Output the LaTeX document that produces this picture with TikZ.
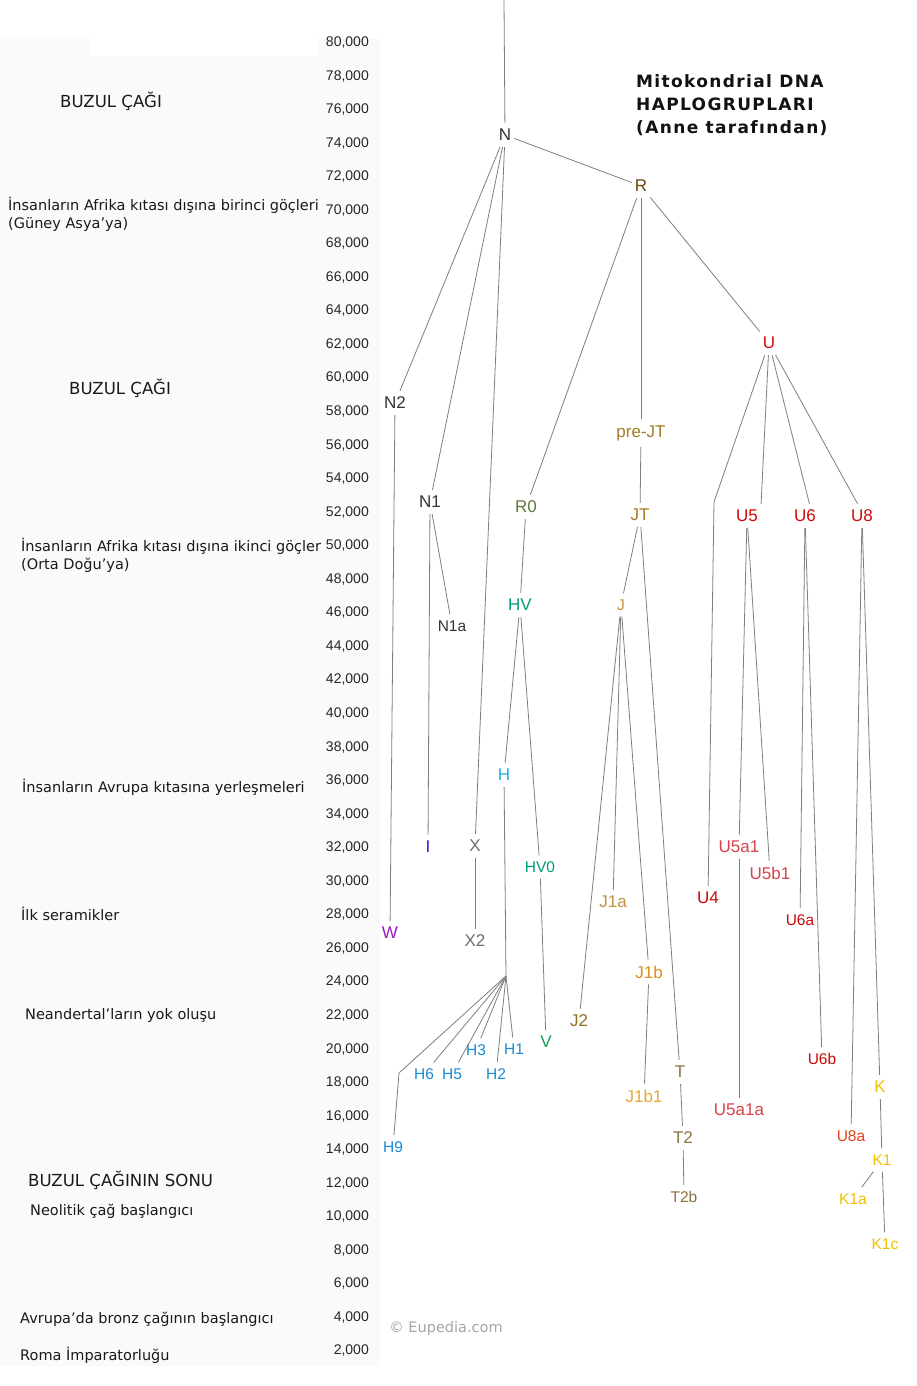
\documentclass[tikz,border=0pt]{standalone}
\usepackage{fontspec}
\setmainfont{Liberation Sans}
\newfontfamily\verdfont{DejaVu Sans}
\newfontfamily\titlefont[LetterSpace=8]{DejaVu Sans}
\usetikzlibrary{positioning}

\definecolor{linegray}{HTML}{7E7E7E}
\definecolor{ngray}{HTML}{333333}
\definecolor{rbrown}{HTML}{6B4412}
\definecolor{ured}{HTML}{CC0A0A}
\definecolor{ulight}{HTML}{D9424A}
\definecolor{uorange}{HTML}{E8401A}
\definecolor{jtgold}{HTML}{A47C22}
\definecolor{jlight}{HTML}{C0943C}
\definecolor{jdark}{HTML}{8F7020}
\definecolor{jorange}{HTML}{DD8F1A}
\definecolor{jpale}{HTML}{E6AA30}
\definecolor{tkhaki}{HTML}{8C7240}
\definecolor{kyellow}{HTML}{F0C000}
\definecolor{rzero}{HTML}{5F7A3C}
\definecolor{hvteal}{HTML}{009B7A}
\definecolor{hcyan}{HTML}{18B4DC}
\definecolor{hblue}{HTML}{1A8AD4}
\definecolor{vgreen}{HTML}{12A04A}
\definecolor{iblue}{HTML}{3A14E0}
\definecolor{xgray}{HTML}{6E6E6E}
\definecolor{wpurple}{HTML}{A014C8}

\begin{document}
\begin{tikzpicture}[x=1pt,y=-1pt,
	hg/.style={inner xsep=3pt,inner ysep=6pt,font=\fontsize{17}{17}\selectfont},
	hgs/.style={inner xsep=3pt,inner ysep=6pt,font=\fontsize{15.5}{15.5}\selectfont},
	link/.style={draw=linegray,line width=0.8pt},
	timelbl/.style={anchor=east,inner sep=0pt,text=black!85,font=\fontsize{14}{14}\selectfont},
	event/.style={anchor=west,inner sep=0pt,align=left,text=black!90,font=\verdfont\fontsize{14.5}{18}\selectfont},
	era/.style={event,font=\verdfont\fontsize{16.6}{18}\selectfont}]

	\useasboundingbox (0,0) rectangle (916,1386);
	\fill[white] (0,0) rectangle (916,1386);
	\fill[black!2] (0,39) rectangle (380,1366);
	\fill[white] (90,39) rectangle (317,56);

	% time axis
	\foreach \k in {1,...,40}
	{
		\pgfmathsetmacro{\ypos}{42.5+(40-\k)*33.55}
		\pgfmathtruncatemacro{\yr}{2*\k}
		\node[timelbl] (t\k) at (369,\ypos) {\yr,000};
	}

	% events
	\node[era] (ev1) at (60,101) {BUZUL ÇAĞI};
	\node[event] (ev2) at (8,214) {İnsanların Afrika kıtası dışına birinci göçleri\\(Güney Asya’ya)};
	\node[era] (ev3) at (69,388) {BUZUL ÇAĞI};
	\node[event] (ev4) at (21,555) {İnsanların Afrika kıtası dışına ikinci göçler\\(Orta Doğu’ya)};
	\node[event] (ev5) at (22,787) {İnsanların Avrupa kıtasına yerleşmeleri};
	\node[event] (ev6) at (21,914) {İlk seramikler};
	\node[event] (ev7) at (25,1015) {Neandertal’ların yok oluşu};
	\node[era] (ev8) at (28,1180) {BUZUL ÇAĞININ SONU};
	\node[event] (ev9) at (30,1211) {Neolitik çağ başlangıcı};
	\node[event] (ev10) at (20,1319) {Avrupa’da bronz çağının başlangıcı};
	\node[event] (ev11) at (20,1355) {Roma İmparatorluğu};

	\node[anchor=north west,inner sep=0pt,align=left,text=black!93,font=\titlefont\bfseries\fontsize{17}{23}\selectfont] (title) at (636,74) {Mitokondrial DNA\\HAPLOGRUPLARI\\(Anne tarafından)};
	\node[text=black!35,font=\verdfont\fontsize{14.5}{14.5}\selectfont] (mark) at (446,1328) {© Eupedia.com};

	% haplogroups
	\node[hg,text=ngray] (N) at (505,135) {N};
	\node[hg,text=rbrown] (R) at (641,186) {R};
	\node[hg,text=ured] (U) at (769,343) {U};
	\node[hg,text=ngray] (N2) at (395,403) {N2};
	\node[hg,text=ngray] (N1) at (430,502) {N1};
	\node[hgs,text=ngray] (N1a) at (452,626) {N1a};
	\node[hg,text=wpurple] (W) at (390,933) {W};
	\node[hg,text=iblue] (I) at (428,847) {I};
	\node[hg,text=xgray] (X) at (475,846) {X};
	\node[hg,text=xgray] (X2) at (475,941) {X2};
	\node[hg,text=rzero] (R0) at (526,507) {R0};
	\node[hg,text=hvteal] (HV) at (520,605) {HV};
	\node[hg,text=hcyan] (H) at (504,775) {H};
	\node[hgs,text=hvteal] (HV0) at (540,867) {HV0};
	\node[hg,text=vgreen] (V) at (546,1042) {V};
	\node[hgs,text=hblue] (H1) at (514,1049) {H1};
	\node[hgs,text=hblue] (H2) at (496,1074) {H2};
	\node[hgs,text=hblue] (H3) at (476,1050) {H3};
	\node[hgs,text=hblue] (H5) at (452,1074) {H5};
	\node[hgs,text=hblue] (H6) at (424,1074) {H6};
	\node[hgs,text=hblue] (H9) at (393,1147) {H9};
	\node[hg,text=jtgold] (preJT) at (641,433) {pre-JT};
	\node[hg,text=jtgold] (JT) at (640,515) {JT};
	\node[hgs,text=jlight] (J) at (621,605) {J};
	\node[hg,text=jdark] (J2) at (579,1021) {J2};
	\node[hg,text=jlight] (J1a) at (613,902) {J1a};
	\node[hg,text=jorange] (J1b) at (649,972) {J1b};
	\node[hg,text=jpale] (J1b1) at (644,1096) {J1b1};
	\node[hg,text=tkhaki] (T) at (680,1072) {T};
	\node[hg,text=tkhaki] (T2) at (683,1138) {T2};
	\node[hgs,text=tkhaki] (T2b) at (684,1197) {T2b};
	\node[hg,text=ured] (U4) at (708,898) {U4};
	\node[hg,text=ured] (U5) at (747,516) {U5};
	\node[hg,text=ured] (U6) at (805,516) {U6};
	\node[hg,text=ured] (U8) at (862,516) {U8};
	\node[hg,text=ulight] (U5a1) at (739,847) {U5a1};
	\node[hg,text=ulight] (U5b1) at (770,873) {U5b1};
	\node[hg,text=ulight] (U5a1a) at (739,1110) {U5a1a};
	\node[hgs,text=ured] (U6a) at (800,920) {U6a};
	\node[hgs,text=ured] (U6b) at (822,1059) {U6b};
	\node[hgs,text=uorange] (U8a) at (851,1136) {U8a};
	\node[hg,text=kyellow] (K) at (880,1087) {K};
	\node[hgs,text=kyellow] (K1) at (882,1160) {K1};
	\node[hgs,text=kyellow] (K1a) at (853,1199) {K1a};
	\node[hgs,text=kyellow] (K1c) at (885,1244) {K1c};

	\coordinate (top) at (504,0);
	\coordinate (Hhub) at (506,976);
	\coordinate (H9k) at (399,1073);
	\coordinate (U4k) at (714,502);

	\path[link]
		(top) edge (N)
		(N) edge (R)
		(N) edge (N2)
		(N) edge (N1)
		(N) edge (X)
		(N2) edge (W)
		(N1) edge (I)
		(N1) edge (N1a)
		(X) edge (X2)
		(R) edge (U)
		(R) edge (R0)
		(R) edge (preJT)
		(preJT) edge (JT)
		(R0) edge (HV)
		(HV) edge (H)
		(HV) edge (HV0)
		(HV0) edge (V)
		(H) edge (Hhub)
		(JT) edge (J)
		(JT) edge (T)
		(T) edge (T2)
		(T2) edge (T2b)
		(J) edge (J2)
		(J) edge (J1a)
		(J) edge (J1b)
		(J1b) edge (J1b1)
		(U) edge (U5.north east)
		(U) edge (U6.70)
		(U) edge (U8.110)
		(U5) edge (U5a1)
		(U5) edge (U5b1)
		(U5a1) edge (U5a1a)
		(U6) edge (U6a)
		(U6) edge (U6b)
		(U8) edge (U8a)
		(U8) edge (K)
		(K) edge (K1)
		(K1) edge (K1a)
		(K1) edge (K1c);

	\foreach \h in {H1,H2,H3,H5,H6}
		\draw[link] (Hhub) -- (\h);
	\draw[link] (Hhub) -- (H9k) -- (H9);
	\draw[link] (U) -- (U4k) -- (U4);
\end{tikzpicture}
\end{document}
